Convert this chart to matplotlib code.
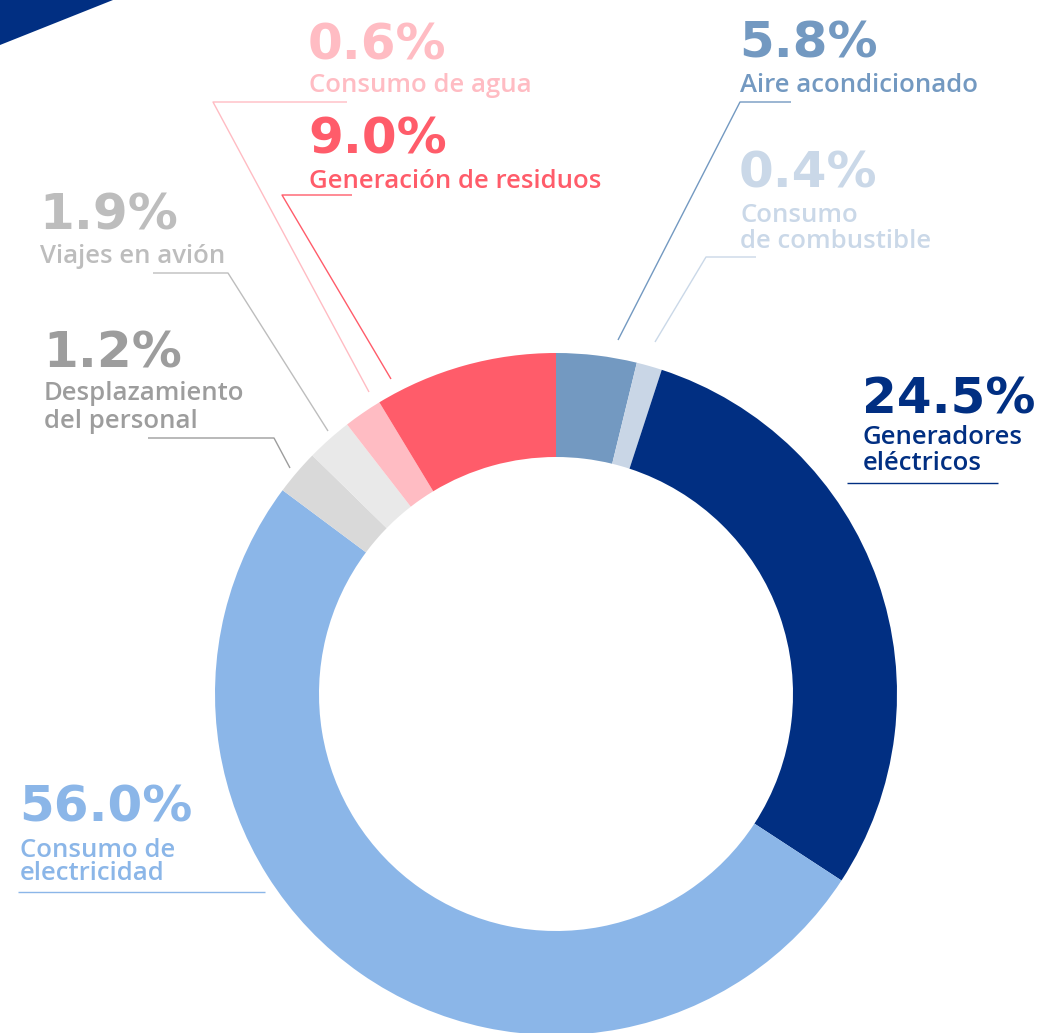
import matplotlib
matplotlib.use("Agg")
import matplotlib.pyplot as plt
from matplotlib.patches import Polygon

W, H = 1039, 1033

# Data (clockwise from 12 o'clock)
categories = ["Aire acondicionado", "Consumo\nde combustible", "Generadores\neléctricos",
              "Consumo de\nelectricidad", "Desplazamiento\ndel personal", "Viajes en avión",
              "Consumo de agua", "Generación de residuos"]
pct_labels = ["5.8%", "0.4%", "24.5%", "56.0%", "1.2%", "1.9%", "0.6%", "9.0%"]
# slice shares as drawn in the picture (angular extent)
slice_shares = [3.81, 1.21, 29.2, 51.0, 2.14, 2.17, 1.83, 8.67]
slice_colors = ["#7399c1", "#c9d6e6", "#012f82", "#8bb6e8", "#d9d9d9", "#e9e9e9", "#ffbcc3", "#ff5c6a"]
text_colors = ["#7399c1", "#cad8e8", "#012f82", "#8bb6e8", "#9d9d9d", "#bdbdbd", "#ffbcc3", "#ff5c6a"]

fig = plt.figure(figsize=(W / 100, H / 100), dpi=100)
ax = fig.add_axes([0, 0, 1, 1])

def Y(py):
    return H - py

cx, cy, R, r_in = 556, 694, 341, 237
ax.pie(slice_shares, colors=slice_colors, startangle=90, counterclock=False,
       center=(cx, Y(cy)), radius=R,
       wedgeprops=dict(width=R - r_in, edgecolor="none", linewidth=0))
ax.set_xlim(0, W)
ax.set_ylim(0, H)
ax.set_aspect("equal")
ax.axis("off")

# top-left decoration
ax.add_patch(Polygon([(0, Y(0)), (113, Y(0)), (0, Y(45))], closed=True,
                     facecolor="#012f82", edgecolor="none"))

PCT_FS = 36
LBL_FS = 18.5
PCT_FONT = "DejaVu Sans"
LBL_FONT = "Open Sans"

# label layout: (pct x, pct baseline, label baseline(s))
layout = {
    0: (739, 57, [92]),
    1: (739, 188, [222, 248]),
    2: (862, 413, [444, 470]),
    3: (19, 822, [857, 880]),
    4: (43, 367, [400, 428]),
    5: (39, 230, [263]),
    6: (308, 60, [92]),
    7: (308, 153, [188]),
}

for i, (x, pb, lbs) in layout.items():
    col = text_colors[i]
    ax.text(x, Y(pb), pct_labels[i], fontsize=PCT_FS, fontweight="bold", color=col,
            family=PCT_FONT, ha="left", va="baseline")
    lines = categories[i].split("\n")
    for line, lb in zip(lines, lbs):
        ax.text(x + 1, Y(lb), line, fontsize=LBL_FS, fontweight="semibold", color=col,
                family=LBL_FONT, ha="left", va="baseline")

# underlines + leader lines (pixel coords)
leaders = [
    (0, [(791, 102), (740, 102), (618, 340)]),
    (1, [(756, 257), (706, 257), (655, 342)]),
    (2, [(998, 483), (847, 483)]),
    (3, [(265, 892), (18, 892)]),
    (4, [(148, 438), (274, 438), (290, 468)]),
    (5, [(153, 273), (228, 273), (328, 431)]),
    (6, [(347, 102), (213, 102), (369, 392)]),
    (7, [(352, 195), (282, 195), (391, 379)]),
]
for i, pts in leaders:
    xs = [p[0] for p in pts]
    ys = [Y(p[1]) for p in pts]
    ax.plot(xs, ys, color=text_colors[i], lw=1.0, solid_capstyle="butt")

fig.savefig("out.png", dpi=100, facecolor="white")
